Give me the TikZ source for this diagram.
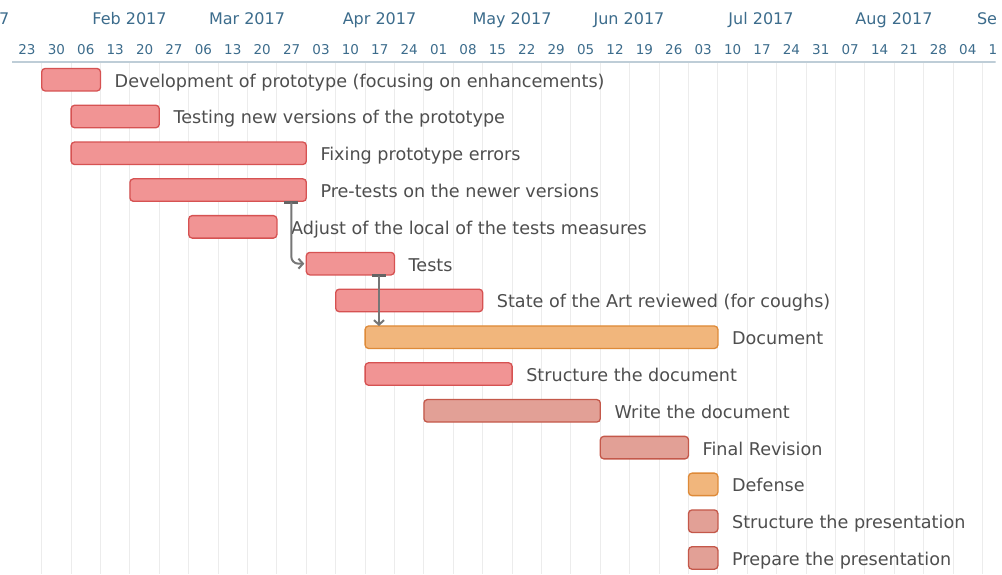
\documentclass[tikz,border=0pt]{standalone}
\usepackage{fontspec}
\setmainfont{DejaVu Sans}
\usetikzlibrary{arrows.meta}

\definecolor{headtext}{RGB}{60,108,140}
\definecolor{headline}{RGB}{190,205,215}
\definecolor{gridgray}{RGB}{236,236,236}
\definecolor{labeltext}{RGB}{78,78,78}
\definecolor{redfill}{RGB}{241,148,148}
\definecolor{redline}{RGB}{214,82,82}
\definecolor{orangefill}{RGB}{241,182,124}
\definecolor{orangeline}{RGB}{222,138,56}
\definecolor{mutedfill}{RGB}{226,160,150}
\definecolor{mutedline}{RGB}{196,88,74}
\definecolor{arrowgray}{RGB}{118,118,118}
\definecolor{capgray}{RGB}{100,100,100}

\tikzset{
  taskbar/.style={draw, line width=1.3pt, rounded corners=3.5pt,
    minimum height=22.5pt, inner sep=0pt, outer sep=0pt},
  redbar/.style={taskbar, draw=redline, fill=redfill},
  orangebar/.style={taskbar, draw=orangeline, fill=orangefill},
  mutedbar/.style={taskbar, draw=mutedline, fill=mutedfill},
  tasklabel/.style={inner sep=0pt, text=labeltext,
    font=\fontsize{17.6}{20}\selectfont},
  weeklabel/.style={inner sep=0pt, text=headtext,
    font=\fontsize{13.5}{16}\selectfont},
  monthlabel/.style={inner sep=0pt, text=headtext,
    font=\fontsize{16}{19}\selectfont},
  gridline/.style={draw=gridgray, line width=1pt},
  depline/.style={draw=arrowgray, line width=2pt},
  deptip/.style={-{Straight Barb[length=4.5pt,width=10pt,line width=2pt]}},
  depcap/.style={fill=capgray, draw=none, minimum width=14pt,
    minimum height=3pt, inner sep=0pt, outer sep=0pt},
}

% one task: name, first week, end week, row, bar style, label
\newcommand{\ganttbar}[6]{%
  \pgfmathsetmacro\gbx{12.3+29.4*#2}%
  \pgfmathsetmacro\gex{12.3+29.4*#3}%
  \pgfmathsetmacro\gbw{29.4*(#3-#2)}%
  \pgfmathsetmacro\gyy{79.7+36.79*#4}%
  \node[#5, minimum width=\gbw pt, anchor=west] (#1) at (\gbx,\gyy) {};
  \node[tasklabel, anchor=base west] (#1-label) at (\gex+14,\gyy+7.4) {#6};
}

\begin{document}
\begin{tikzpicture}[x=1pt,y=-1pt]
  \useasboundingbox (0,0) rectangle (1002,574);
  \fill[white] (0,0) rectangle (1002,574);
  % the chart area ends a little short of the right edge
  \clip (0,0) rectangle (995.5,574);

  % week grid
  \foreach \k in {1,...,33}
    \draw[gridline] (12.3+29.4*\k,62) -- (12.3+29.4*\k,574);
  \draw[draw=headline, line width=1.5pt] (12.3,62) -- (1002,62);

  % header: months and weeks
  \foreach \m/\x [count=\i] in {Jan 2017/-26, Feb 2017/129.5, Mar 2017/247,
      Apr 2017/379.5, May 2017/512, Jun 2017/629, Jul 2017/761,
      Aug 2017/894, Sep 2017/1015}
    \node[monthlabel, anchor=base] (month\i) at (\x,24.5) {\m};
  \foreach \w [count=\k from 0] in {23,30,06,13,20,27,06,13,20,27,03,10,17,24,
      01,08,15,22,29,05,12,19,26,03,10,17,24,31,07,14,21,28,04,11}
    \node[weeklabel, anchor=base] (week\k) at (12.3+29.4*\k+14.7,54.5) {\w};

  % tasks
  \ganttbar{dev}{1}{3}{0}{redbar}{Development of prototype (focusing on enhancements)}
  \ganttbar{testing}{2}{5}{1}{redbar}{Testing new versions of the prototype}
  \ganttbar{fixing}{2}{10}{2}{redbar}{Fixing prototype errors}
  \ganttbar{pretests}{4}{10}{3}{redbar}{Pre-tests on the newer versions}
  \ganttbar{adjust}{6}{9}{4}{redbar}{Adjust of the local of the tests measures}
  \ganttbar{tests}{10}{13}{5}{redbar}{Tests}
  \ganttbar{sota}{11}{16}{6}{redbar}{State of the Art reviewed (for coughs)}
  \ganttbar{document}{12}{24}{7}{orangebar}{Document}
  \ganttbar{structdoc}{12}{17}{8}{redbar}{Structure the document}
  \ganttbar{writedoc}{14}{20}{9}{mutedbar}{Write the document}
  \ganttbar{revision}{20}{23}{10}{mutedbar}{Final Revision}
  \ganttbar{defense}{23}{24}{11}{orangebar}{Defense}
  \ganttbar{structpres}{23}{24}{12}{mutedbar}{Structure the presentation}
  \ganttbar{preppres}{23}{24}{13}{mutedbar}{Prepare the presentation}

  % dependencies
  \node[depcap] (cap1) at ([xshift=-15pt,yshift=-1pt]pretests.south east) {};
  \node[depcap] (cap2) at ([xshift=-15.5pt,yshift=-1pt]tests.south east) {};
  \draw[depline, deptip, rounded corners=7pt, shorten >=2pt]
    (cap1.center) |- (tests.west);
  \draw[depline, deptip] (cap2.center) -- (cap2.center |- document.north);
\end{tikzpicture}
\end{document}
